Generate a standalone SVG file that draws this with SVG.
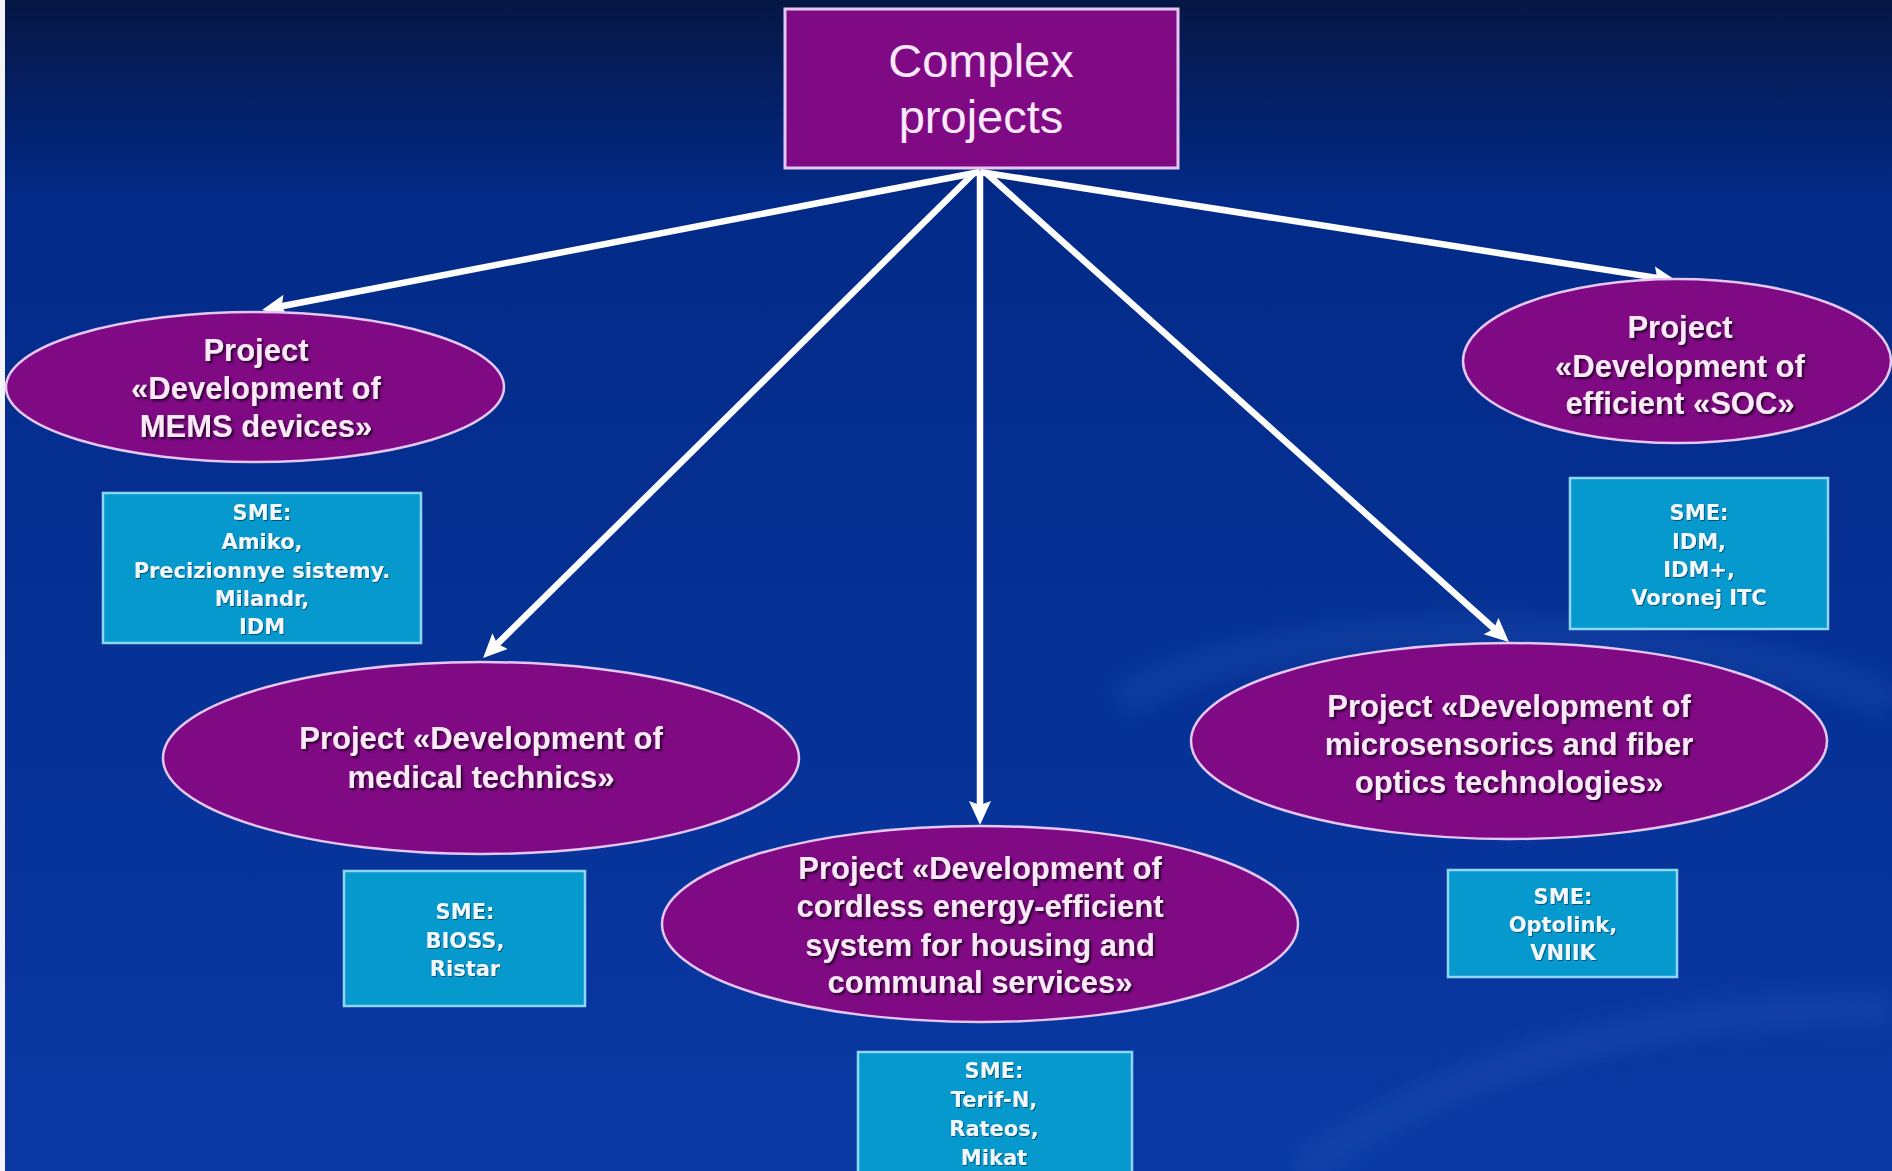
<svg xmlns="http://www.w3.org/2000/svg" width="1892" height="1171" viewBox="0 0 1892 1171">
<defs>
<linearGradient id="bg" x1="0" y1="0" x2="0" y2="1">
<stop offset="0" stop-color="#061644"/>
<stop offset="0.17" stop-color="#022a88"/>
<stop offset="1" stop-color="#0a39a4"/>
</linearGradient>
<marker id="ah" markerUnits="userSpaceOnUse" markerWidth="30" markerHeight="26" refX="12" refY="11" orient="auto">
<path d="M0,0 L24,11 L0,22 L4,11 z" fill="#ffffff"/>
</marker>
<filter id="sh" x="-10%" y="-10%" width="120%" height="130%">
<feDropShadow dx="2" dy="2" stdDeviation="0.8" flood-color="#1a0020" flood-opacity="0.9"/>
</filter>
<filter id="sh2" x="-10%" y="-10%" width="120%" height="130%">
<feDropShadow dx="1" dy="1" stdDeviation="0.6" flood-color="#003050" flood-opacity="0.7"/>
</filter>
<filter id="blur" x="-20%" y="-50%" width="140%" height="200%">
<feGaussianBlur stdDeviation="12"/>
</filter>
</defs>
<style>
.ell{fill:#800a84;stroke:#e6c6f2;stroke-width:2.5}
.box{fill:#800a84;stroke:#e6c6f2;stroke-width:3}
.sme{fill:#0599cd;stroke:#8fd6f2;stroke-width:2.5}
.pt{font-family:"Liberation Sans",Arial,sans-serif;font-weight:bold;font-size:31px;fill:#fbe9f8;text-anchor:middle;filter:url(#sh)}
.st{font-family:"DejaVu Sans",Verdana,sans-serif;font-weight:bold;font-size:21px;fill:#f2f8ff;text-anchor:middle;filter:url(#sh2)}
.tt{font-family:"Liberation Sans",Arial,sans-serif;font-size:47px;fill:#fbe8fb;text-anchor:middle}
.conn{stroke:#ffffff;stroke-width:6.5;fill:none;marker-end:url(#ah)}
</style>
<rect x="0" y="0" width="1892" height="1171" fill="url(#bg)"/>
<rect x="0" y="0" width="5" height="1171" fill="#f4f4f8"/>
<g fill="none" stroke="#3a68c8" stroke-opacity="0.22" stroke-width="30" filter="url(#blur)">
<path d="M1120,700 C1300,600 1700,620 1892,700"/>
<path d="M1300,1171 C1450,1060 1700,1000 1892,1010"/>
</g>
<g id="connectors">
<line class="conn" x1="980" y1="172" x2="273.8" y2="307.7"/>
<line class="conn" x1="975" y1="172" x2="491.6" y2="649.6"/>
<line class="conn" x1="980" y1="172" x2="980" y2="813"/>
<line class="conn" x1="985" y1="172" x2="1500" y2="634"/>
<line class="conn" x1="980" y1="172" x2="1665.1" y2="279.1"/>
</g>
<g id="complex">
<rect class="box" x="785" y="9" width="393" height="159"/>
<text class="tt" x="981" y="77">Complex</text>
<text class="tt" x="981" y="133">projects</text>
</g>
<g id="mems">
<ellipse class="ell" cx="255" cy="387" rx="249" ry="75"/>
<text class="pt" x="256" y="361">Project</text>
<text class="pt" x="256" y="399">«Development of</text>
<text class="pt" x="256" y="437">MEMS devices»</text>
</g>
<g id="mems-sme">
<rect class="sme" x="103" y="493" width="318" height="150"/>
<text class="st" x="262" y="520">SME:</text>
<text class="st" x="262" y="549">Amiko,</text>
<text class="st" x="262" y="578">Precizionnye sistemy.</text>
<text class="st" x="262" y="606">Milandr,</text>
<text class="st" x="262" y="634">IDM</text>
</g>
<g id="soc">
<ellipse class="ell" cx="1677" cy="361" rx="214" ry="82"/>
<text class="pt" x="1680" y="338">Project</text>
<text class="pt" x="1680" y="377">«Development of</text>
<text class="pt" x="1680" y="414">efficient «SOC»</text>
</g>
<g id="soc-sme">
<rect class="sme" x="1570" y="478" width="258" height="151"/>
<text class="st" x="1699" y="520">SME:</text>
<text class="st" x="1699" y="549">IDM,</text>
<text class="st" x="1699" y="577">IDM+,</text>
<text class="st" x="1699" y="605">Voronej ITC</text>
</g>
<g id="medical">
<ellipse class="ell" cx="481" cy="758" rx="318" ry="96"/>
<text class="pt" x="481" y="749">Project «Development of</text>
<text class="pt" x="481" y="788">medical technics»</text>
</g>
<g id="medical-sme">
<rect class="sme" x="344" y="871" width="241" height="135"/>
<text class="st" x="465" y="919">SME:</text>
<text class="st" x="465" y="948">BIOSS,</text>
<text class="st" x="465" y="976">Ristar</text>
</g>
<g id="cordless">
<ellipse class="ell" cx="980" cy="924" rx="318" ry="98"/>
<text class="pt" x="980" y="879">Project «Development of</text>
<text class="pt" x="980" y="917">cordless energy-efficient</text>
<text class="pt" x="980" y="956">system for housing and</text>
<text class="pt" x="980" y="993">communal services»</text>
</g>
<g id="cordless-sme">
<rect class="sme" x="858" y="1052" width="274" height="130"/>
<text class="st" x="994" y="1078">SME:</text>
<text class="st" x="994" y="1107">Terif-N,</text>
<text class="st" x="994" y="1136">Rateos,</text>
<text class="st" x="994" y="1165">Mikat</text>
</g>
<g id="micro">
<ellipse class="ell" cx="1509" cy="741" rx="318" ry="98"/>
<text class="pt" x="1509" y="717">Project «Development of</text>
<text class="pt" x="1509" y="755">microsensorics and fiber</text>
<text class="pt" x="1509" y="793">optics technologies»</text>
</g>
<g id="micro-sme">
<rect class="sme" x="1448" y="870" width="229" height="107"/>
<text class="st" x="1563" y="904">SME:</text>
<text class="st" x="1563" y="932">Optolink,</text>
<text class="st" x="1563" y="960">VNIIK</text>
</g>
</svg>
